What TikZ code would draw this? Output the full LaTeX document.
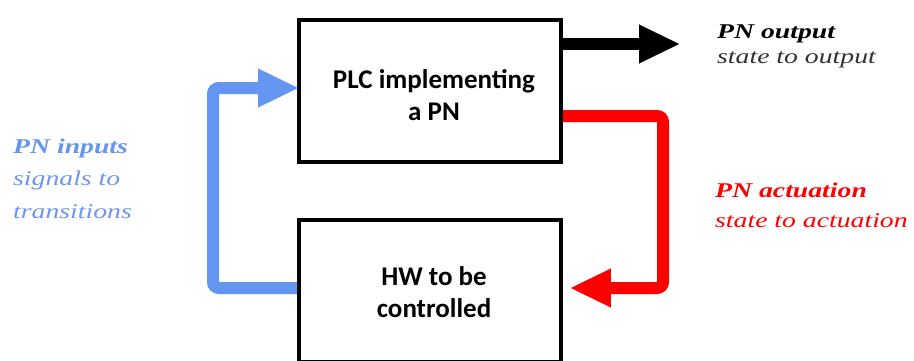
\documentclass[tikz,border=0pt]{standalone}
\usepackage{fontspec}
\setmainfont{Liberation Serif}
\newfontfamily\boxfont{Carlito}
\newfontfamily\labelfont{Liberation Serif}
\usetikzlibrary{arrows.meta}

\definecolor{inblue}{RGB}{100,149,240}
\definecolor{inbluetext}{RGB}{110,150,240}
\definecolor{actred}{RGB}{255,0,0}
\definecolor{outgrey}{RGB}{50,50,50}

\tikzset{
  block/.style={draw=black, line width=4pt, minimum width=262pt, minimum height=142pt,
    inner sep=0pt},
  blocktext/.style={align=center, inner sep=0pt, anchor=base,
    font=\boxfont\bfseries\fontsize{27pt}{32pt}\selectfont},
  flow/.style={line width=12pt, rounded corners=6pt,
    -{Triangle[length=40pt,width=39pt,line width=0.01pt,round=false]}},
  lbl/.style={anchor=base west, inner sep=0pt},
}
\newcommand{\wide}[1]{\scalebox{1.32}[1]{#1}}

\begin{document}
\begin{tikzpicture}[x=1pt,y=-1pt]
  \useasboundingbox (0,0) rectangle (914,360);
  \clip (0,0) rectangle (914,360);

  % the two blocks
  \node[block] (plc) at (430,91) {};
  \node[blocktext] (plctext) at (434,120) {PLC implementing\\a PN};
  \node[block] (hw) at (430,291) {};
  \node[blocktext] (hwtext) at (434,317) {HW to be\\controlled};

  % output arrow
  \draw[flow, draw=black, rounded corners=0pt]
    ([yshift=47pt]plc.east) -- ([xshift=116pt,yshift=47pt]plc.east);

  % actuation loop
  \draw[flow, draw=actred]
    ([yshift=-25pt]plc.east) -| ([xshift=100pt,yshift=3pt]hw.east)
    -- ([xshift=8pt,yshift=3pt]hw.east);

  % input loop
  \draw[flow, draw=inblue]
    ([yshift=3pt]hw.west) -| ([xshift=-84pt,yshift=3pt]plc.west)
    -- ([xshift=1pt,yshift=3pt]plc.west);

  % labels
  \node[lbl, text=black] (outA) at (717,38)
    {\wide{\labelfont\bfseries\itshape\fontsize{21pt}{25pt}\selectfont PN output}};
  \node[lbl, text=outgrey] (outB) at (717,63)
    {\wide{\labelfont\itshape\fontsize{21pt}{25pt}\selectfont state to output}};

  \node[lbl, text=actred] (actA) at (715,197)
    {\wide{\labelfont\bfseries\itshape\fontsize{21pt}{25pt}\selectfont PN actuation}};
  \node[lbl, text=actred] (actB) at (715,227)
    {\wide{\labelfont\itshape\fontsize{21pt}{25pt}\selectfont state to actuation}};

  \node[lbl, text=inblue] (inA) at (13,153)
    {\wide{\labelfont\bfseries\itshape\fontsize{21pt}{25pt}\selectfont PN inputs}};
  \node[lbl, text=inbluetext] (inB) at (13,185)
    {\wide{\labelfont\itshape\fontsize{21pt}{25pt}\selectfont signals to}};
  \node[lbl, text=inbluetext] (inC) at (13,218)
    {\wide{\labelfont\itshape\fontsize{21pt}{25pt}\selectfont transitions}};
\end{tikzpicture}
\end{document}
